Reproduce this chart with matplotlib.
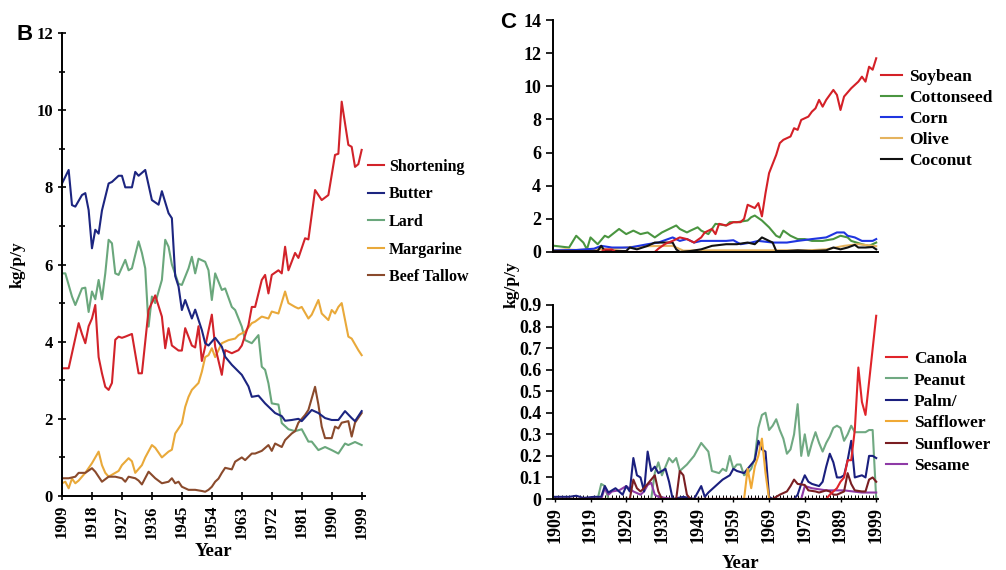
import matplotlib
matplotlib.use("Agg")
import matplotlib.pyplot as plt
from matplotlib.ticker import MultipleLocator

plt.rcParams["font.family"] = ["Liberation Serif", "DejaVu Serif"]
plt.rcParams["font.weight"] = "bold"

# ---------------------------------------------------------------- panel B
shortening_years = [1909, 1911, 1912, 1914, 1915, 1916, 1917, 1918, 1919, 1920, 1921, 1922, 1923, 1924,
                    1925, 1926, 1927, 1928, 1930, 1932, 1933, 1935, 1937, 1939, 1940, 1941, 1942, 1944,
                    1945, 1946, 1948, 1949, 1950, 1951, 1952, 1954, 1955, 1957, 1958, 1960, 1962, 1963,
                    1965, 1966, 1967, 1969, 1970, 1971, 1972, 1974, 1975, 1976, 1977, 1979, 1980, 1982,
                    1983, 1985, 1987, 1989, 1991, 1992, 1993, 1995, 1996, 1997, 1998, 1999]
shortening = [3.31, 3.31, 3.7, 4.48, 4.2, 3.96, 4.4, 4.6, 4.95, 3.6, 3.18, 2.83, 2.75, 2.93,
              4.05, 4.13, 4.1, 4.13, 4.2, 3.18, 3.18, 4.82, 5.2, 4.65, 3.83, 4.35, 3.9, 3.77,
              3.77, 4.35, 3.9, 3.85, 4.4, 3.5, 3.87, 4.7, 3.87, 3.14, 3.78, 3.7, 3.78, 3.9,
              4.43, 4.9, 4.9, 5.6, 5.73, 5.25, 5.73, 5.85, 5.77, 6.46, 5.85, 6.3, 6.17, 6.68,
              6.65, 7.93, 7.67, 7.8, 8.84, 8.87, 10.22, 9.1, 9.05, 8.53, 8.6, 8.97]

butter_years = [1909, 1911, 1912, 1913, 1915, 1916, 1917, 1918, 1919, 1920, 1921, 1923, 1924, 1926,
                1927, 1928, 1930, 1931, 1932, 1934, 1936, 1938, 1939, 1941, 1942, 1943, 1944, 1945,
                1946, 1948, 1949, 1951, 1952, 1953, 1955, 1957, 1958, 1960, 1963, 1965, 1966, 1968,
                1970, 1973, 1975, 1976, 1978, 1980, 1981, 1984, 1986, 1988, 1990, 1992, 1994, 1996,
                1997, 1999]
butter = [8.1, 8.45, 7.54, 7.5, 7.8, 7.85, 7.41, 6.42, 6.9, 6.8, 7.4, 8.1, 8.14, 8.3,
          8.3, 8.0, 8.0, 8.4, 8.3, 8.45, 7.67, 7.55, 7.9, 7.33, 7.2, 5.7, 5.43, 4.82,
          5.08, 4.6, 4.83, 4.3, 3.96, 3.9, 4.1, 3.87, 3.61, 3.4, 3.14, 2.84, 2.57, 2.6,
          2.4, 2.15, 2.07, 1.95, 1.97, 2.0, 1.94, 2.23, 2.15, 2.02, 1.97, 1.97, 2.2, 2.02,
          1.94, 2.2]

lard_years = [1909, 1910, 1912, 1913, 1915, 1916, 1917, 1918, 1919, 1920, 1921, 1922, 1923, 1924,
              1925, 1926, 1928, 1929, 1930, 1932, 1933, 1934, 1935, 1936, 1937, 1939, 1940, 1941,
              1942, 1944, 1945, 1947, 1948, 1949, 1950, 1952, 1953, 1954, 1955, 1957, 1958, 1960,
              1961, 1963, 1964, 1966, 1968, 1969, 1970, 1971, 1972, 1974, 1975, 1977, 1979, 1981,
              1983, 1984, 1986, 1988, 1990, 1992, 1994, 1995, 1997, 1999]
lard = [5.77, 5.77, 5.17, 4.95, 5.38, 5.4, 4.77, 5.3, 5.1, 5.6, 5.1, 5.77, 6.64, 6.55,
        5.77, 5.73, 6.12, 5.85, 5.9, 6.6, 6.3, 5.9, 4.39, 5.17, 5.0, 5.6, 6.64, 6.46,
        6.0, 5.5, 5.47, 5.9, 6.2, 5.77, 6.15, 6.07, 5.85, 5.08, 5.77, 5.34, 5.38, 4.9,
        4.82, 4.39, 4.04, 3.96, 4.17, 3.35, 3.27, 2.92, 2.4, 2.37, 1.89, 1.73, 1.68, 1.73,
        1.41, 1.41, 1.19, 1.27, 1.19, 1.1, 1.36, 1.32, 1.4, 1.32]

margarine_years = [1909, 1910, 1911, 1912, 1913, 1914, 1916, 1918, 1920, 1921, 1922, 1923, 1924, 1926,
                   1927, 1929, 1930, 1931, 1933, 1934, 1936, 1937, 1939, 1941, 1942, 1943, 1944, 1945,
                   1946, 1947, 1948, 1950, 1951, 1952, 1953, 1954, 1955, 1957, 1959, 1961, 1962, 1964,
                   1966, 1967, 1969, 1971, 1972, 1974, 1976, 1977, 1979, 1980, 1981, 1983, 1984, 1986,
                   1987, 1989, 1990, 1991, 1992, 1993, 1995, 1996, 1998, 1999]
margarine = [0.33, 0.37, 0.2, 0.45, 0.33, 0.4, 0.6, 0.85, 1.15, 0.8, 0.6, 0.5, 0.55, 0.65,
             0.8, 0.98, 0.9, 0.6, 0.8, 1.0, 1.32, 1.25, 1.0, 1.15, 1.2, 1.62, 1.75, 1.88,
             2.31, 2.57, 2.75, 2.93, 3.22, 3.6, 3.65, 3.83, 3.6, 3.96, 4.04, 4.08, 4.17, 4.26,
             4.48, 4.52, 4.65, 4.6, 4.78, 4.73, 5.3, 5.0, 4.9, 4.86, 4.9, 4.6, 4.7, 5.08,
             4.73, 4.56, 4.82, 4.73, 4.9, 5.0, 4.13, 4.08, 3.78, 3.65]

tallow_years = [1909, 1911, 1913, 1914, 1916, 1918, 1919, 1921, 1923, 1925, 1927, 1928, 1929, 1931,
                1932, 1933, 1935, 1937, 1939, 1941, 1942, 1943, 1944, 1945, 1947, 1949, 1951, 1952,
                1953, 1954, 1955, 1956, 1957, 1958, 1960, 1961, 1963, 1964, 1966, 1967, 1969, 1971,
                1972, 1973, 1975, 1976, 1978, 1979, 1980, 1982, 1983, 1985, 1986, 1987, 1988, 1990,
                1991, 1992, 1993, 1995, 1996, 1997, 1999]
tallow = [0.46, 0.46, 0.5, 0.6, 0.6, 0.72, 0.63, 0.37, 0.5, 0.5, 0.46, 0.37, 0.5, 0.46,
          0.4, 0.3, 0.63, 0.46, 0.33, 0.37, 0.46, 0.33, 0.37, 0.24, 0.16, 0.16, 0.13, 0.11,
          0.16, 0.24, 0.37, 0.45, 0.6, 0.73, 0.69, 0.89, 1.0, 0.93, 1.1, 1.1, 1.17, 1.32,
          1.17, 1.36, 1.27, 1.45, 1.62, 1.68, 1.9, 2.1, 2.23, 2.83, 2.37, 1.8, 1.5, 1.5,
          1.8, 1.75, 1.9, 1.94, 1.54, 1.9, 2.15]

# ---------------------------------------------------------------- panel C, top
soybean_years = [1909, 1922, 1923, 1925, 1926, 1937, 1938, 1940, 1942, 1944, 1946, 1948, 1950, 1951,
                 1953, 1954, 1955, 1957, 1959, 1961, 1962, 1963, 1965, 1966, 1967, 1968, 1969, 1971,
                 1972, 1973, 1975, 1976, 1977, 1978, 1980, 1981, 1982, 1983, 1984, 1985, 1987, 1988,
                 1989, 1990, 1992, 1993, 1994, 1995, 1996, 1997, 1998, 1999]
soybean = [0.0, 0.0, 0.15, 0.15, 0.0, 0.0, 0.2, 0.5, 0.67, 0.88, 0.78, 0.57, 0.88, 1.18,
           1.39, 1.08, 1.7, 1.6, 1.8, 1.8, 2.0, 2.85, 2.65, 2.95, 2.15, 3.55, 4.76, 5.86,
           6.57, 6.77, 6.97, 7.47, 7.37, 7.97, 8.17, 8.47, 8.67, 9.18, 8.77, 9.18, 9.78, 9.48,
           8.57, 9.38, 9.88, 10.08, 10.28, 10.58, 10.28, 11.18, 11.0, 11.69]

cottonseed_years = [1909, 1913, 1915, 1917, 1918, 1919, 1921, 1923, 1924, 1927, 1929, 1931, 1933, 1935,
                    1937, 1939, 1941, 1943, 1944, 1946, 1947, 1949, 1950, 1952, 1954, 1957, 1958, 1960,
                    1963, 1964, 1965, 1967, 1969, 1971, 1972, 1973, 1975, 1977, 1979, 1981, 1984, 1987,
                    1989, 1991, 1992, 1995, 1997, 1999]
cottonseed = [0.37, 0.27, 0.98, 0.57, 0.16, 0.88, 0.47, 0.98, 0.88, 1.39, 1.08, 1.29, 1.08, 1.18,
              0.88, 1.18, 1.39, 1.6, 1.39, 1.18, 1.29, 1.49, 1.29, 1.08, 1.7, 1.6, 1.8, 1.8,
              1.9, 2.1, 2.2, 1.9, 1.49, 0.98, 0.88, 1.29, 0.98, 0.78, 0.78, 0.67, 0.67, 0.78,
              0.98, 0.88, 0.67, 0.47, 0.37, 0.57]

corn_years = [1909, 1915, 1920, 1922, 1925, 1930, 1935, 1938, 1942, 1944, 1946, 1948, 1950, 1953,
              1957, 1959, 1961, 1964, 1966, 1970, 1974, 1977, 1981, 1985, 1988, 1990, 1991, 1993,
              1995, 1998, 1999]
corn = [0.1, 0.12, 0.2, 0.37, 0.27, 0.27, 0.47, 0.57, 0.88, 0.67, 0.78, 0.57, 0.67, 0.67,
        0.67, 0.71, 0.47, 0.57, 0.67, 0.57, 0.57, 0.67, 0.78, 0.88, 1.18, 1.18, 0.98, 0.88,
        0.67, 0.67, 0.78]

olive_years = [1909, 1912, 1915, 1920, 1925, 1930, 1935, 1940, 1942, 1945, 1950, 1960, 1970, 1980,
               1985, 1990, 1994, 1999]
olive = [0.1, 0.16, 0.12, 0.16, 0.16, 0.3, 0.35, 0.37, 0.37, 0.08, 0.1, 0.1, 0.1, 0.1,
         0.16, 0.37, 0.47, 0.35]

coconut_years = [1909, 1921, 1922, 1923, 1929, 1930, 1932, 1935, 1937, 1940, 1942, 1943, 1944, 1947,
                 1950, 1953, 1957, 1960, 1963, 1965, 1967, 1969, 1970, 1971, 1974, 1977, 1981, 1985,
                 1987, 1989, 1991, 1993, 1994, 1996, 1998, 1999]
coconut = [0.06, 0.06, 0.37, 0.06, 0.06, 0.27, 0.16, 0.37, 0.57, 0.57, 0.57, 0.16, 0.0, 0.06,
           0.16, 0.37, 0.47, 0.47, 0.57, 0.47, 0.88, 0.67, 0.57, 0.06, 0.06, 0.1, 0.06, 0.1,
           0.27, 0.16, 0.27, 0.43, 0.27, 0.27, 0.3, 0.16]

# ---------------------------------------------------------------- panel C, bottom
canola_years = [1909, 1985, 1986, 1988, 1989, 1990, 1991, 1992, 1993, 1994, 1995, 1996, 1999]
canola = [0.0, 0.0, 0.02, 0.05, 0.08, 0.1, 0.18, 0.18, 0.32, 0.61, 0.45, 0.39, 0.85]

peanut_years = [1909, 1921, 1922, 1923, 1924, 1936, 1937, 1938, 1939, 1941, 1942, 1943, 1944, 1946,
                1948, 1950, 1951, 1952, 1953, 1955, 1956, 1957, 1958, 1959, 1960, 1961, 1962, 1963,
                1964, 1965, 1966, 1967, 1968, 1969, 1970, 1971, 1972, 1973, 1974, 1975, 1976, 1977,
                1978, 1979, 1980, 1981, 1982, 1983, 1984, 1985, 1986, 1987, 1988, 1989, 1990, 1991,
                1992, 1993, 1994, 1995, 1996, 1997, 1998, 1999]
peanut = [0.0, 0.0, 0.07, 0.06, 0.0, 0.0, 0.12, 0.17, 0.11, 0.19, 0.17, 0.19, 0.13, 0.16,
          0.2, 0.26, 0.24, 0.22, 0.13, 0.12, 0.14, 0.13, 0.2, 0.14, 0.16, 0.16, 0.11, 0.12,
          0.14, 0.19, 0.33, 0.39, 0.4, 0.32, 0.34, 0.37, 0.32, 0.28, 0.21, 0.23, 0.3, 0.44,
          0.2, 0.3, 0.2, 0.26, 0.31, 0.26, 0.22, 0.26, 0.29, 0.33, 0.34, 0.33, 0.27, 0.3,
          0.34, 0.31, 0.31, 0.31, 0.31, 0.32, 0.32, 0.0]

palm_years = [1909, 1913, 1915, 1917, 1920, 1922, 1923, 1924, 1926, 1928, 1929, 1930, 1931, 1932,
              1933, 1934, 1935, 1936, 1937, 1938, 1940, 1941, 1942, 1945, 1948, 1949, 1950, 1951,
              1952, 1954, 1956, 1958, 1959, 1960, 1962, 1963, 1965, 1966, 1967, 1968, 1969, 1970,
              1976, 1977, 1978, 1979, 1980, 1981, 1983, 1984, 1985, 1986, 1987, 1988, 1989, 1990,
              1991, 1992, 1993, 1995, 1996, 1997, 1998, 1999]
palm = [0.01, 0.01, 0.015, 0.005, 0.01, 0.01, 0.06, 0.03, 0.05, 0.02, 0.06, 0.035, 0.19, 0.11,
        0.1, 0.035, 0.22, 0.13, 0.15, 0.12, 0.14, 0.08, 0.0, 0.01, 0.0, 0.03, 0.06, 0.01,
        0.03, 0.06, 0.09, 0.11, 0.14, 0.13, 0.12, 0.14, 0.18, 0.27, 0.23, 0.22, 0.01, 0.0,
        0.0, 0.02, 0.07, 0.11, 0.08, 0.07, 0.06, 0.08, 0.15, 0.21, 0.17, 0.1, 0.1, 0.11,
        0.18, 0.27, 0.1, 0.11, 0.1, 0.2, 0.2, 0.19]

safflower_years = [1909, 1962, 1963, 1964, 1965, 1966, 1967, 1968, 1969, 1999]
safflower = [0.0, 0.0, 0.14, 0.05, 0.15, 0.2, 0.28, 0.12, 0.0, 0.0]

sunflower_years = [1909, 1930, 1931, 1932, 1933, 1934, 1936, 1937, 1938, 1939, 1943, 1944, 1945, 1946,
                   1947, 1970, 1972, 1974, 1975, 1976, 1977, 1979, 1980, 1982, 1983, 1985, 1986, 1987,
                   1988, 1990, 1991, 1992, 1993, 1995, 1996, 1997, 1998, 1999]
sunflower = [0.0, 0.0, 0.09, 0.05, 0.035, 0.05, 0.09, 0.11, 0.035, 0.0, 0.0, 0.13, 0.11, 0.02,
             0.0, 0.0, 0.02, 0.035, 0.06, 0.09, 0.07, 0.065, 0.04, 0.035, 0.03, 0.04, 0.035, 0.02,
             0.02, 0.035, 0.12, 0.07, 0.04, 0.035, 0.035, 0.09, 0.1, 0.08]

sesame_years = [1909, 1922, 1923, 1924, 1925, 1927, 1928, 1929, 1931, 1933, 1934, 1935, 1936, 1937,
                1938, 1942, 1978, 1979, 1981, 1985, 1990, 1995, 1999]
sesame = [0.0, 0.0, 0.05, 0.02, 0.035, 0.04, 0.05, 0.06, 0.035, 0.02, 0.035, 0.065, 0.075, 0.02,
          0.01, 0.0, 0.0, 0.06, 0.05, 0.04, 0.04, 0.03, 0.03]

# ---------------------------------------------------------------- colours
C_SHORT = "#d2232a"
C_BUTTER = "#1c2580"
C_LARD = "#6aa77c"
C_MARG = "#e9a93a"
C_TALLOW = "#8a4a2c"

C_SOY = "#d42027"
C_COTTON = "#4a9540"
C_CORN = "#1f35e0"
C_OLIVE = "#e5b35e"
C_COCO = "#111111"

C_CANOLA = "#e0242a"
C_PEANUT = "#70a982"
C_PALM = "#1a1f7e"
C_SAFF = "#f0a935"
C_SUN = "#7a1e22"
C_SESAME = "#8e3aa6"

LW = 1.5
TICK_B = dict(family="Liberation Serif", weight="bold", size=12)
TICK_C = dict(family="Liberation Serif", weight="bold", size=13)
LEG_B = dict(family="Liberation Serif", weight="bold", size=11.5)
LEG_C = dict(family="Liberation Serif", weight="bold", size=12.5)

W, H = 1006, 570
fig = plt.figure(figsize=(W / 100, H / 100), dpi=100)


def px_axes(left, top, right, bottom):
    return fig.add_axes([left / W, 1 - bottom / H, (right - left) / W, (bottom - top) / H])


def style(ax, font):
    for s in ("top", "right"):
        ax.spines[s].set_visible(False)
    for s in ("left", "bottom"):
        ax.spines[s].set_linewidth(1.4)
    ax.tick_params(which="both", direction="inout", width=1.2, colors="black")
    ax.tick_params(which="major", length=6)
    ax.tick_params(which="minor", length=4)
    for lab in ax.get_xticklabels() + ax.get_yticklabels():
        lab.set_fontproperties(font)


# ---- panel B
axB = px_axes(62, 33, 365, 496)
axB.plot(lard_years, lard, color=C_LARD, lw=LW, label="Lard")
axB.plot(margarine_years, margarine, color=C_MARG, lw=LW, label="Margarine")
axB.plot(tallow_years, tallow, color=C_TALLOW, lw=LW, label="Beef Tallow")
axB.plot(shortening_years, shortening, color=C_SHORT, lw=LW, label="Shortening")
axB.plot(butter_years, butter, color=C_BUTTER, lw=LW, label="Butter")
axB.set_xlim(1909, 2000)
axB.set_ylim(0, 12)
axB.set_xticks(range(1909, 2000, 9))
axB.set_xticklabels([str(y) for y in range(1909, 2000, 9)], rotation=90)
axB.yaxis.set_major_locator(MultipleLocator(2))
axB.yaxis.set_minor_locator(MultipleLocator(1))
style(axB, TICK_B)
axB.set_xlabel("Year", fontsize=13.5, fontweight="bold", labelpad=3)
axB.set_ylabel("kg/p/y", fontsize=12.5, fontweight="bold", labelpad=8)

hB, lB = axB.get_legend_handles_labels()
orderB = ["Shortening", "Butter", "Lard", "Margarine", "Beef Tallow"]
hB = [hB[lB.index(n)] for n in orderB]
axB.legend(hB, orderB, loc="upper left", bbox_to_anchor=(368 / W, 1 - 159 / H),
           bbox_transform=fig.transFigure, frameon=False, prop=LEG_B,
           handlelength=1.0, handletextpad=0.3, labelspacing=0.72, borderpad=0, borderaxespad=0)

fig.text(17 / W, 1 - 35 / H, "B", family="Liberation Sans", weight="bold", fontsize=16, va="center")

# ---- panel C, top
axT = px_axes(553, 20, 878, 252)
axT.plot(cottonseed_years, cottonseed, color=C_COTTON, lw=LW, label="Cottonseed")
axT.plot(olive_years, olive, color=C_OLIVE, lw=LW, label="Olive")
axT.plot(corn_years, corn, color=C_CORN, lw=LW, label="Corn")
axT.plot(coconut_years, coconut, color=C_COCO, lw=LW, label="Coconut")
axT.plot(soybean_years, soybean, color=C_SOY, lw=LW, label="Soybean")
axT.set_xlim(1908.5, 1999.5)
axT.set_ylim(0, 14)
axT.yaxis.set_major_locator(MultipleLocator(2))
axT.set_xticks([])
style(axT, TICK_C)
axT.tick_params(axis="y", direction="out", length=5)

hT, lT = axT.get_legend_handles_labels()
orderT = ["Soybean", "Cottonseed", "Corn", "Olive", "Coconut"]
hT = [hT[lT.index(n)] for n in orderT]
axT.legend(hT, orderT, loc="upper left", bbox_to_anchor=(881 / W, 1 - 69 / H),
           bbox_transform=fig.transFigure, frameon=False, prop=LEG_C,
           handlelength=1.2, handletextpad=0.4, labelspacing=0.28, borderpad=0, borderaxespad=0)

fig.text(500 / W, 1 - 22 / H, "C", family="Liberation Sans", weight="bold", fontsize=16, va="center")

# ---- panel C, bottom
axL = px_axes(553, 305, 878, 499)
axL.plot(peanut_years, peanut, color=C_PEANUT, lw=LW, label="Peanut")
axL.plot(sesame_years, sesame, color=C_SESAME, lw=LW, label="Sesame")
axL.plot(palm_years, palm, color=C_PALM, lw=LW, label="Palm/")
axL.plot(safflower_years, safflower, color=C_SAFF, lw=LW, label="Safflower")
axL.plot(sunflower_years, sunflower, color=C_SUN, lw=LW, label="Sunflower")
axL.plot(canola_years, canola, color=C_CANOLA, lw=LW, label="Canola")
axL.set_xlim(1908.5, 1999.5)
axL.set_ylim(0, 0.9)
axL.set_xticks(range(1909, 2000, 10))
axL.set_xticklabels([str(y) for y in range(1909, 2000, 10)], rotation=90)
axL.xaxis.set_minor_locator(MultipleLocator(1))
axL.set_yticks([i / 10 for i in range(10)])
axL.set_yticklabels(["0"] + [f"0.{i}" for i in range(1, 10)])
style(axL, TICK_C)
axL.tick_params(axis="y", direction="out", length=5)
axL.tick_params(axis="x", which="minor", direction="in", length=3, width=0.7)
axL.tick_params(axis="x", which="major", direction="inout", length=5, width=1.0)

hL, lL = axL.get_legend_handles_labels()
orderL = ["Canola", "Peanut", "Palm/", "Safflower", "Sunflower", "Sesame"]
hL = [hL[lL.index(n)] for n in orderL]
axL.legend(hL, orderL, loc="upper left", bbox_to_anchor=(886 / W, 1 - 351 / H),
           bbox_transform=fig.transFigure, frameon=False, prop=LEG_C,
           handlelength=1.2, handletextpad=0.4, labelspacing=0.3, borderpad=0, borderaxespad=0)

fig.text(512 / W, 1 - 285 / H, "kg/p/y", rotation=90, fontsize=12.5, fontweight="bold",
         ha="center", va="center")
fig.text(740 / W, 1 - 563 / H, "Year", fontsize=13.5, fontweight="bold", ha="center", va="center")

fig.savefig("out.png", dpi=100)
